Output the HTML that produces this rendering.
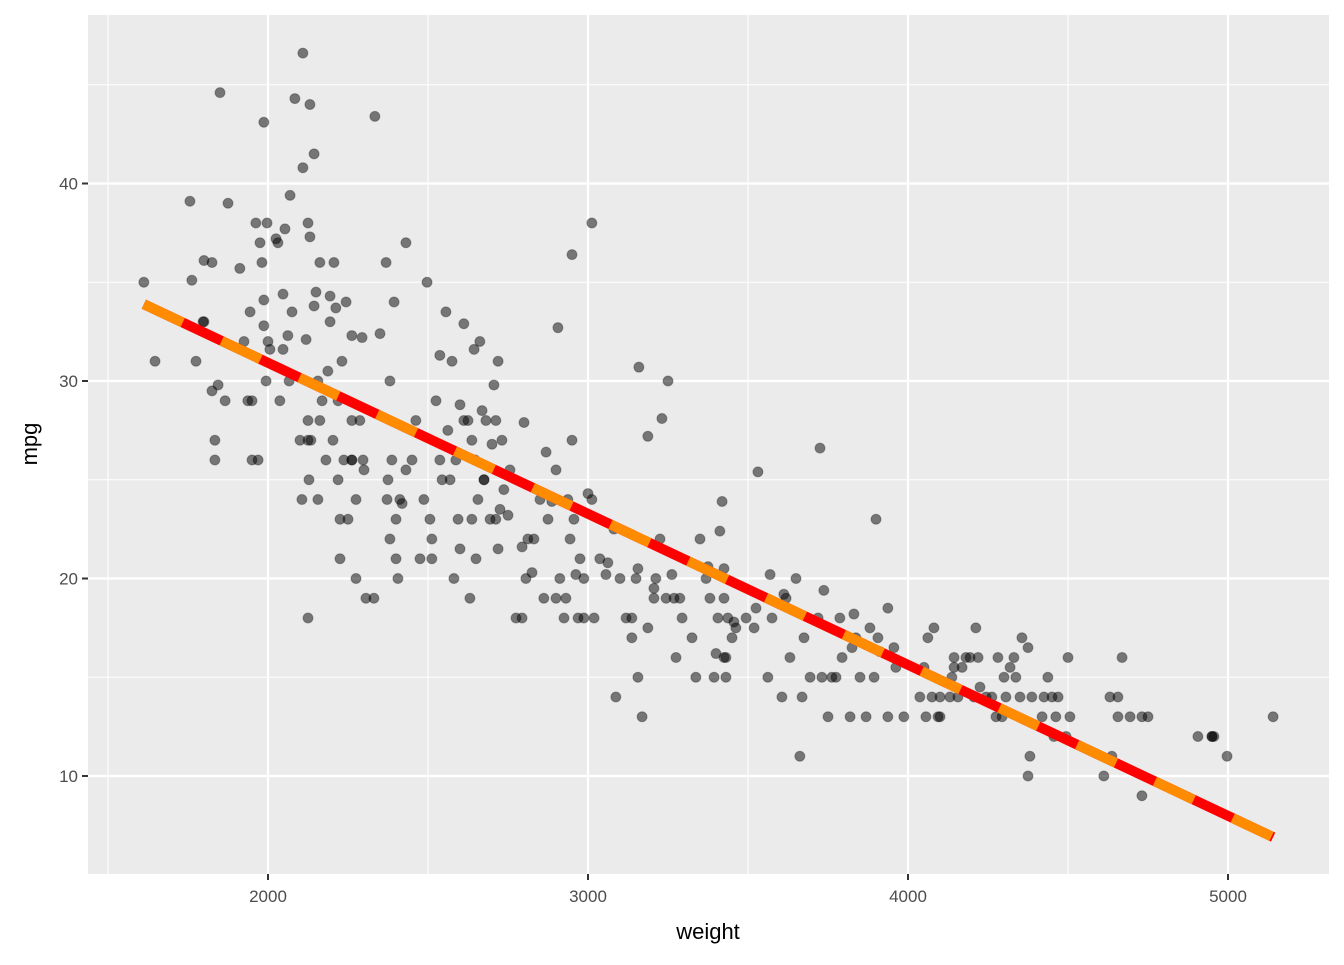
<!DOCTYPE html>
<html><head><meta charset="utf-8"><style>
body{margin:0;background:#fff;}
svg text{font-family:"Liberation Sans",Arial,sans-serif;}
</style></head><body>
<svg id="chart" width="1344" height="960" xmlns="http://www.w3.org/2000/svg">
<rect x="0" y="0" width="1344" height="960" fill="#fff"/>
<rect x="88" y="15" width="1241" height="859" fill="#ebebeb"/>
<g id="grid"></g><g id="pts"></g><g id="fit"></g><g id="axes"></g>
<text x="708" y="939" font-size="22" text-anchor="middle" fill="#000">weight</text>
<text transform="translate(37,444) rotate(-90)" font-size="22" text-anchor="middle" fill="#000">mpg</text>
</svg>
<script>
const weights=[1612,1647,1756,1762,1775,1800,1797,1825,1825,1834,1834,1844,1850,1866,1875,1912,1925,1937,1950,1944,1962,1969,1975,1981,1987,1987,1987,1994,1997,2000,2006,2025,2031,2037,2047,2047,2053,2062,2066,2069,2075,2084,2100,2106,2109,2109,2119,2125,2125,2125,2128,2131,2131,2134,2144,2144,2150,2156,2156,2162,2162,2169,2181,2187,2194,2194,2203,2206,2212,2219,2219,2225,2225,2231,2237,2244,2250,2262,2262,2262,2275,2275,2287,2294,2297,2300,2306,2331,2334,2350,2369,2372,2375,2381,2381,2387,2394,2400,2400,2406,2412,2419,2431,2431,2450,2462,2475,2487,2497,2506,2512,2512,2525,2537,2537,2544,2556,2562,2569,2575,2581,2587,2594,2600,2600,2612,2612,2625,2631,2637,2637,2644,2647,2650,2656,2662,2669,2675,2681,2694,2700,2706,2712,2712,2719,2719,2725,2731,2737,2750,2756,2775,2794,2794,2800,2806,2812,2825,2831,2850,2862,2869,2875,2887,2900,2900,2906,2912,2925,2931,2937,2944,2950,2950,2956,2962,2969,2975,2987,2987,3000,3012,3012,3019,3037,3056,3062,3081,3087,3100,3119,3137,3137,3150,3156,3156,3159,3169,3187,3187,3206,3206,3212,3225,3231,3244,3250,3262,3269,3275,3287,3294,3325,3337,3350,3369,3375,3381,3394,3400,3406,3412,3419,3425,3425,3431,3431,3437,3450,3456,3462,3494,3519,3525,3531,3562,3569,3575,3606,3612,3619,3631,3650,3662,3669,3675,3694,3719,3725,3731,3737,3750,3762,3775,3787,3794,3819,3825,3831,3837,3850,3869,3881,3894,3900,3906,3912,3937,3937,3956,3962,3987,4037,4050,4056,4062,4075,4081,4094,4100,4100,4131,4137,4144,4144,4156,4169,4181,4194,4206,4212,4219,4225,4244,4262,4275,4281,4294,4300,4306,4319,4331,4337,4350,4356,4375,4375,4381,4387,4419,4425,4437,4450,4456,4462,4469,4494,4500,4506,4612,4631,4637,4656,4656,4669,4694,4731,4731,4750,4906,4950,4956,4997,5141,1800,1950,2125,2262,2675,3425,4950];
const mpgs=[35,31,39.1,35.1,31,36.1,33,36,29.5,27,26,29.8,44.6,29,39,35.7,32,29,26,33.5,38,26,37,36,34.1,32.8,43.1,30,38,32,31.6,37.2,37,29,34.4,31.6,37.7,32.3,30,39.4,33.5,44.3,27,24,40.8,46.6,32.1,38,28,18,25,37.3,44,27,41.5,33.8,34.5,30,24,36,28,29,26,30.5,33,34.3,27,36,33.7,29,25,23,21,31,26,34,23,28,26,32.3,24,20,28,32.2,26,25.5,19,19,43.4,32.4,36,24,25,30,22,26,34,23,21,20,24,23.8,37,25.5,26,28,21,24,35,23,22,21,29,26,31.3,25,33.5,27.5,25,31,20,26,23,28.8,21.5,28,32.9,28,19,23,27,31.6,26,21,24,32,28.5,25,28,23,26.8,29.8,28,23,31,21.5,23.5,27,24.5,23.2,25.5,18,18,21.6,27.9,20,22,20.3,22,24,19,26.4,23,23.9,25.5,19,32.7,20,18,19,24,22,36.4,27,23,20.2,18,21,18,20,24.3,38,24,18,21,20.2,20.8,22.5,14,20,18,17,18,20,15,20.5,30.7,13,17.5,27.2,19,19.5,20,22,28.1,19,30,20.2,19,16,19,18,17,15,22,20,20.6,19,15,16.2,18,22.4,23.9,20.5,19,16,15,18,17,17.8,17.5,18,17.5,18.5,25.4,15,20.2,18,14,19.2,19,16,20,11,14,17,15,18,26.6,15,19.4,13,15,15,18,16,13,16.5,18.2,17,15,13,17.5,15,23,17,16.3,13,18.5,16.5,15.5,13,14,15.5,13,17,14,17.5,13,13,14,14,15,15.5,16,14,15.5,16,16,14,17.5,16,14.5,14,14,13,16,13,15,14,15.5,16,15,14,17,10,16.5,11,14,13,14,15,14,12,13,14,12,16,13,10,14,11,14,13,16,13,9,13,13,12,12,12,11,13,33,29,27,26,25,16,12];
const fitIntercept=46.2165;
const fitSlope=-0.007647;
const xTicks=[2000,3000,4000,5000];
const xMinor=[1500,2500,3500,4500];
const yTicks=[10,20,30,40];
const yMinor=[15,25,35,45];
const NS='http://www.w3.org/2000/svg';
const X=w=>268+(w-2000)*0.32;
const Y=m=>776-(m-10)*19.75;
function mk(tag,attrs,parent){const e=document.createElementNS(NS,tag);for(const k in attrs)e.setAttribute(k,attrs[k]);document.getElementById(parent).appendChild(e);return e;}
xMinor.forEach(v=>{const l=mk('line',{x1:X(v),x2:X(v),y1:15,y2:874,stroke:'#fff','stroke-width':1.1},'grid');

});
yMinor.forEach(v=>{const l=mk('line',{x1:88,x2:1329,y1:Y(v),y2:Y(v),stroke:'#fff','stroke-width':1.1},'grid');

});
xTicks.forEach(v=>{const l=mk('line',{x1:X(v),x2:X(v),y1:15,y2:874,stroke:'#fff','stroke-width':2.2},'grid');


const t=mk('line',{x1:X(v),x2:X(v),y1:874,y2:880,stroke:'#333','stroke-width':2},'axes');


const tx=mk('text',{x:X(v),y:902,'font-size':17,'text-anchor':'middle',fill:'#4d4d4d'},'axes');tx.textContent=v;

});
yTicks.forEach(v=>{const l=mk('line',{x1:88,x2:1329,y1:Y(v),y2:Y(v),stroke:'#fff','stroke-width':2.2},'grid');


const t=mk('line',{x1:82,x2:88,y1:Y(v),y2:Y(v),stroke:'#333','stroke-width':2},'axes');


const tx=mk('text',{x:78,y:Y(v)+6,'font-size':17,'text-anchor':'end',fill:'#4d4d4d'},'axes');tx.textContent=v;

});
weights.forEach((w,i)=>{const c=mk('circle',{cx:X(w),cy:Y(mpgs[i]),r:5,fill:'#000','fill-opacity':0.5,stroke:'#000','stroke-opacity':0.3,'stroke-width':1},'pts');

});
const wmin=Math.min(...weights),wmax=Math.max(...weights);
const p={x1:X(wmin),y1:Y(fitIntercept+fitSlope*wmin),x2:X(wmax),y2:Y(fitIntercept+fitSlope*wmax)};
const r=mk('line',Object.assign({stroke:'#ff0000','stroke-width':10},p),'fit');


const o=mk('line',Object.assign({stroke:'#ff8c00','stroke-width':10,'stroke-dasharray':'43 43'},p),'fit');


</script>
</body></html>
